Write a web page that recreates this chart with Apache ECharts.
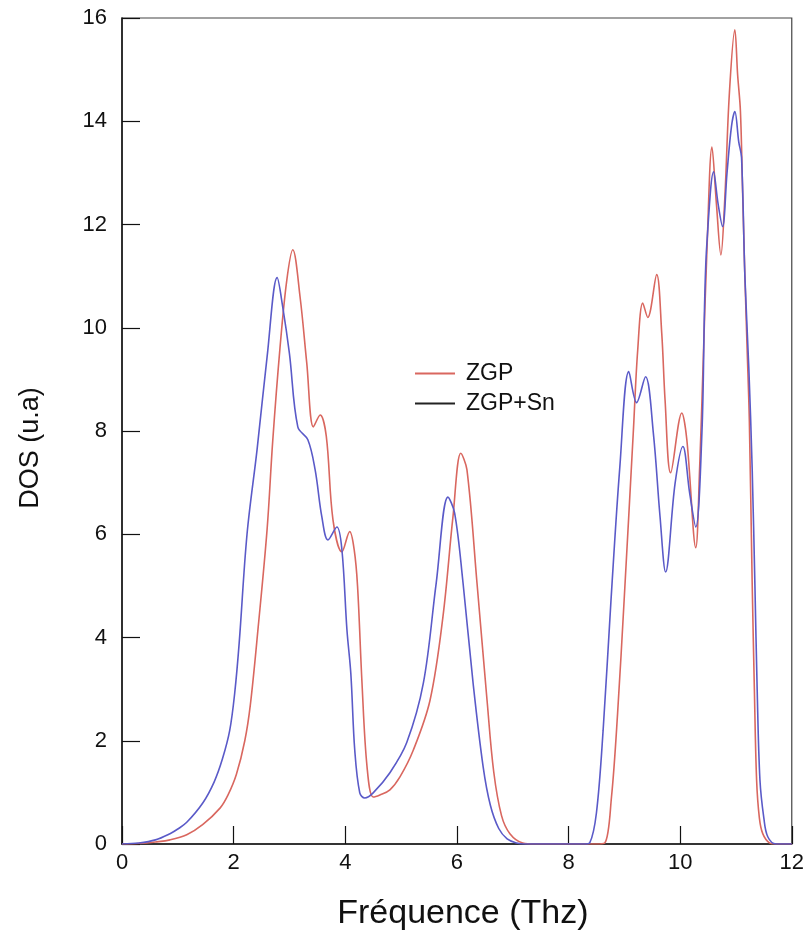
<!DOCTYPE html>
<html>
<head>
<meta charset="utf-8">
<script src="https://cdn.jsdelivr.net/npm/echarts@6/dist/echarts.min.js"></script>
<style>html,body{margin:0;padding:0;background:#fff}#c{width:807px;height:940px}</style>
</head>
<body>
<div id="c"></div>
<script>
// ZGP (red)
const freqZGP = [0, 0.3, 0.6, 0.86, 1.16, 1.45, 1.76, 1.9, 2.05, 2.2, 2.3, 2.44, 2.6, 2.7, 2.83, 2.95, 3.06, 3.19, 3.31, 3.43, 3.55, 3.66, 3.78, 3.94, 4.08, 4.16, 4.22, 4.3, 4.39, 4.5, 4.62, 4.8, 4.98, 5.22, 5.52, 5.75, 5.93, 6.07, 6.18, 6.36, 6.54, 6.66, 6.8, 6.95, 7.18, 7.4, 8.5, 8.65, 8.77, 8.88, 9.0, 9.16, 9.24, 9.33, 9.42, 9.58, 9.67, 9.73, 9.83, 10.03, 10.12, 10.28, 10.35, 10.41, 10.48, 10.57, 10.65, 10.73, 10.8, 10.88, 10.98, 11.03, 11.08, 11.12, 11.16, 11.2, 11.24, 11.29, 11.33, 11.37, 11.42, 11.48, 11.6, 11.7, 12];
const dosZGP  = [0, 0.01, 0.04, 0.08, 0.18, 0.38, 0.7, 0.95, 1.35, 2.0, 2.7, 4.2, 6.1, 7.8, 9.6, 10.9, 11.51, 10.6, 9.32, 8.08, 8.31, 7.9, 6.28, 5.66, 6.05, 5.7, 5.0, 3.12, 1.5, 0.91, 0.95, 1.05, 1.3, 1.82, 2.79, 4.4, 6.34, 7.57, 7.25, 5.06, 2.79, 1.4, 0.55, 0.2, 0.02, 0, 0, 0.02, 0.91, 2.54, 4.79, 7.96, 9.57, 10.48, 10.2, 11.03, 9.9, 8.6, 7.19, 8.35, 7.83, 5.74, 7.3, 9.24, 11.5, 13.5, 12.4, 11.41, 12.5, 14.5, 15.77, 14.9, 14.2, 12.6, 11.0, 9.6, 8.2, 5.1, 3.0, 1.24, 0.5, 0.2, 0.02, 0, 0];
// ZGP+Sn (blue)
const freqSn = [0, 0.3, 0.6, 0.86, 1.0, 1.16, 1.45, 1.65, 1.8, 1.93, 2.02, 2.1, 2.24, 2.42, 2.6, 2.78, 2.88, 3.0, 3.15, 3.33, 3.46, 3.58, 3.69, 3.85, 3.94, 4.03, 4.1, 4.17, 4.26, 4.35, 4.5, 4.8, 5.1, 5.4, 5.63, 5.84, 5.96, 6.11, 6.29, 6.47, 6.6, 6.75, 6.9, 7.07, 7.2, 8.3, 8.38, 8.5, 8.62, 8.76, 8.92, 9.08, 9.22, 9.38, 9.52, 9.64, 9.74, 9.91, 10.05, 10.17, 10.28, 10.39, 10.44, 10.48, 10.6, 10.68, 10.76, 10.84, 10.92, 10.98, 11.05, 11.1, 11.16, 11.23, 11.29, 11.34, 11.38, 11.43, 11.5, 11.57, 11.72, 12];
const dosSn  = [0, 0.02, 0.08, 0.2, 0.29, 0.42, 0.8, 1.2, 1.65, 2.2, 2.93, 3.9, 6.0, 7.64, 9.44, 10.97, 10.4, 9.5, 8.08, 7.83, 7.25, 6.34, 5.89, 6.14, 5.7, 4.15, 3.3, 1.82, 0.99, 0.89, 0.99, 1.38, 1.96, 3.12, 5.06, 6.72, 6.41, 5.06, 3.12, 1.5, 0.75, 0.3, 0.1, 0.02, 0, 0, 0.02, 0.6, 2.2, 4.7, 7.31, 9.15, 8.55, 9.05, 7.96, 6.34, 5.27, 6.99, 7.7, 6.8, 6.14, 7.96, 10.54, 11.65, 13.02, 12.4, 11.96, 13.0, 13.9, 14.19, 13.6, 13.3, 11.0, 9.24, 7.3, 5.0, 3.0, 1.24, 0.5, 0.14, 0, 0];

const seriesNames = ['ZGP', 'ZGP+Sn'];
const xTicks = [0, 2, 4, 6, 8, 10, 12];
const yTicks = [0, 2, 4, 6, 8, 10, 12, 14, 16];

const pairs = (xs, ys) => xs.map((x, i) => [x, ys[i]]);
const FONT = '"Liberation Sans", Arial, sans-serif';

const chart = echarts.init(document.getElementById('c'), null, {renderer: 'canvas'});
chart.setOption({
  animation: false,
  backgroundColor: '#fff',
  grid: {left: 122, right: 15, top: 18, bottom: 96, show: true, borderColor: '#444', borderWidth: 1.2, backgroundColor: 'transparent'},
  legend: {
    orient: 'vertical', left: 410, top: 357, itemGap: 7, itemWidth: 40, itemHeight: 2, icon: 'rect',
    textStyle: {fontFamily: FONT, fontSize: 23, color: '#111', padding: [0, 0, 0, 6]},
    data: [
      {name: seriesNames[0], itemStyle: {color: '#d9675f'}},
      {name: seriesNames[1], itemStyle: {color: '#222'}}
    ]
  },
  xAxis: {
    type: 'value', min: xTicks[0], max: xTicks[xTicks.length - 1], interval: 2,
    name: 'Fréquence (Thz)', nameLocation: 'middle', nameGap: 53,
    nameTextStyle: {fontFamily: FONT, fontSize: 34, color: '#111', padding: [0, 0, 0, 12]},
    axisLine: {onZero: false, lineStyle: {color: '#111', width: 1.5}},
    axisTick: {inside: true, length: 18, lineStyle: {color: '#111', width: 1.2}},
    axisLabel: {fontFamily: FONT, fontSize: 22, color: '#111', margin: 8},
    splitLine: {show: false}
  },
  yAxis: {
    type: 'value', min: yTicks[0], max: yTicks[yTicks.length - 1], interval: 2,
    name: 'DOS (u.a)', nameLocation: 'middle', nameGap: 78,
    nameTextStyle: {fontFamily: FONT, fontSize: 27, color: '#111', padding: [0, 34, 0, 0]},
    axisLine: {onZero: false, lineStyle: {color: '#111', width: 1.5}},
    axisTick: {inside: true, length: 18, lineStyle: {color: '#111', width: 1.2}},
    axisLabel: {fontFamily: FONT, fontSize: 22, color: '#111', margin: 15},
    splitLine: {show: false}
  },
  series: [
    {name: seriesNames[0], type: 'line', data: pairs(freqZGP, dosZGP), smooth: 0.35, showSymbol: false,
     lineStyle: {color: '#d9675f', width: 1.6}, itemStyle: {color: '#d9675f'}, z: 2},
    {name: seriesNames[1], type: 'line', data: pairs(freqSn, dosSn), smooth: 0.35, showSymbol: false,
     lineStyle: {color: '#5a5ac8', width: 1.6}, itemStyle: {color: '#5a5ac8'}, z: 3}
  ]
});
</script>
</body>
</html>
